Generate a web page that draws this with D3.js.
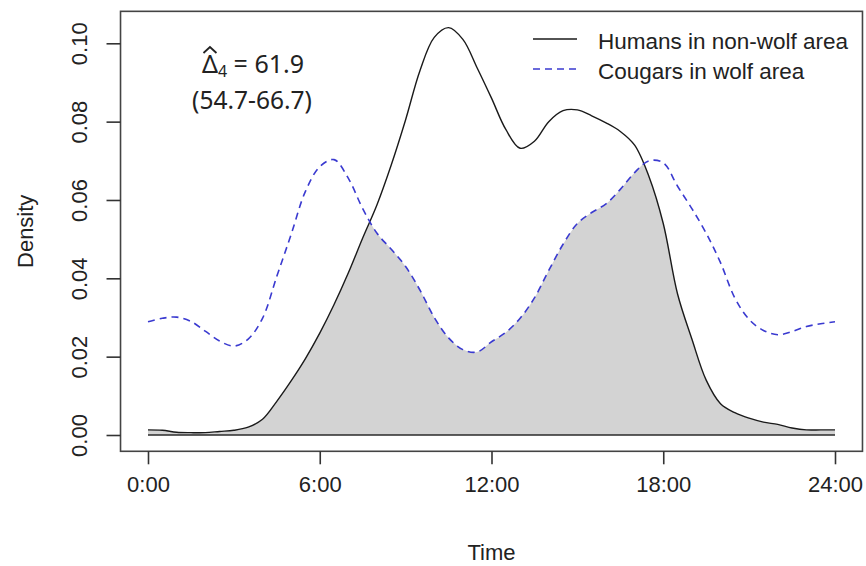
<!DOCTYPE html>
<html>
<head>
<meta charset="utf-8">
<script src="https://cdn.jsdelivr.net/npm/d3@7"></script>
<style>
  html, body { margin: 0; padding: 0; background: #fff; }
  svg { display: block; }
  text { font-family: "Liberation Sans", Arial, sans-serif; fill: #222; }
</style>
</head>
<body>
<svg id="chart" width="866" height="566"></svg>
<script>
// ---- data ----
const hours = [0,0.5,1,1.5,2,2.5,3,3.5,4,4.5,5,5.5,6,6.5,7,7.5,8,8.5,9,9.5,10,10.5,11,11.5,12,
               12.5,13,13.5,14,14.5,15,15.5,16,16.5,17,17.5,18,18.5,19,19.5,20,20.5,21,21.5,22,22.5,23,23.5,24];
const humans = [0.0013,0.0012,0.0007,0.0006,0.0006,0.0009,0.0012,0.0020,0.0040,0.0086,0.0138,0.0195,0.0260,
                0.0333,0.0414,0.0503,0.0588,0.0690,0.0805,0.0930,0.1015,0.1040,0.1010,0.0937,0.0860,
                0.0780,0.0732,0.0750,0.0800,0.0828,0.0830,0.0815,0.0797,0.0775,0.0740,0.0660,0.0540,
                0.0360,0.0245,0.0140,0.0080,0.0057,0.0043,0.0033,0.0027,0.0018,0.0013,0.0013,0.0013];
const cougars = [0.0289,0.0298,0.0301,0.0290,0.0265,0.0240,0.0227,0.0245,0.0298,0.0405,0.0512,0.0622,0.0685,
                 0.0703,0.0655,0.0578,0.0515,0.0474,0.0430,0.0370,0.0300,0.0248,0.0218,0.0212,0.0238,
                 0.0262,0.0298,0.0350,0.0420,0.0487,0.0540,0.0568,0.0590,0.0627,0.0670,0.0700,0.0695,
                 0.0635,0.0578,0.0515,0.0440,0.0350,0.0295,0.0267,0.0256,0.0264,0.0277,0.0284,0.0289];
const xTicks = [0, 6, 12, 18, 24];
const xTickLabels = ["0:00", "6:00", "12:00", "18:00", "24:00"];
const yTicks = [0, 0.02, 0.04, 0.06, 0.08, 0.10];
const seriesNames = ["Humans in non-wolf area", "Cougars in wolf area"];
const annotation = { estimate: "61.9", interval: "(54.7-66.7)" };

// ---- layout ----
const svg = d3.select("#chart");
const x = d3.scaleLinear().domain([0, 24]).range([148, 835]);
const yMax = d3.max(humans.concat(cougars));
const y = d3.scaleLinear().domain([0, 0.1]).range([435, 43.3]);
const pad = 0.04;
const boxX0 = x(-24 * pad), boxX1 = x(24 + 24 * pad);
const boxY0 = y(yMax + yMax * pad), boxY1 = y(-yMax * pad);

const data = hours.map((h, i) => ({ h, a: humans[i], b: cougars[i] }));
const curve = d3.curveCatmullRom.alpha(0.5);

// clip: area under cougars curve
const defs = svg.append("defs");
defs.append("clipPath").attr("id", "underCougars")
  .append("path")
  .attr("d", d3.area().x(d => x(d.h)).y0(y(0)).y1(d => y(d.b)).curve(curve)(data));

// overlap fill = area under humans clipped to area under cougars
svg.append("path")
  .attr("d", d3.area().x(d => x(d.h)).y0(y(0)).y1(d => y(d.a)).curve(curve)(data))
  .attr("fill", "#d3d3d3")
  .attr("clip-path", "url(#underCougars)");

// zero baseline
svg.append("line")
  .attr("x1", x(0)).attr("x2", x(24)).attr("y1", y(0)).attr("y2", y(0))
  .attr("stroke", "#2a2a2a").attr("stroke-width", 1.6);

// humans line
svg.append("path")
  .attr("d", d3.line().x(d => x(d.h)).y(d => y(d.a)).curve(curve)(data))
  .attr("fill", "none").attr("stroke", "#1a1a1a").attr("stroke-width", 1.4);

// cougars line
svg.append("path")
  .attr("d", d3.line().x(d => x(d.h)).y(d => y(d.b)).curve(curve)(data))
  .attr("fill", "none").attr("stroke", "#3a3ad0").attr("stroke-width", 1.6)
  .attr("stroke-dasharray", "7,5");

// box
svg.append("rect")
  .attr("x", boxX0).attr("y", boxY0)
  .attr("width", boxX1 - boxX0).attr("height", boxY1 - boxY0)
  .attr("fill", "none").attr("stroke", "#444").attr("stroke-width", 1.6);

// x axis
const xAxis = d3.axisBottom(x).tickValues(xTicks)
  .tickFormat((d, i) => xTickLabels[i]).tickSize(13).tickPadding(12);
const gx = svg.append("g").attr("transform", `translate(0,${boxY1})`).call(xAxis);
gx.select(".domain").remove();
gx.selectAll(".tick line").attr("stroke", "#333").attr("stroke-width", 1.6);
gx.selectAll(".tick text").attr("font-size", 22).attr("fill", "#222")
  .style("font-family", "'Liberation Sans', Arial, sans-serif");

// y axis
const yAxis = d3.axisLeft(y).tickValues(yTicks).tickFormat(d3.format(".2f")).tickSize(14).tickPadding(0);
const gy = svg.append("g").attr("transform", `translate(${boxX0},0)`).call(yAxis);
gy.select(".domain").remove();
gy.selectAll(".tick line").attr("stroke", "#333").attr("stroke-width", 1.6);
gy.selectAll(".tick text")
  .attr("font-size", 22).attr("fill", "#222")
  .attr("text-anchor", "middle").attr("dy", null)
  .attr("x", null)
  .attr("transform", `translate(${87 - boxX0},0) rotate(-90)`)
  .style("font-family", "'Liberation Sans', Arial, sans-serif");

// axis titles
svg.append("text").attr("x", (boxX0 + boxX1) / 2).attr("y", 560)
  .attr("text-anchor", "middle").attr("font-size", 22).text("Time");
svg.append("text").attr("transform", `translate(33,${(boxY0 + boxY1) / 2}) rotate(-90)`)
  .attr("text-anchor", "middle").attr("font-size", 22).text("Density");

// legend
const legend = svg.append("g");
const legRows = [
  { name: seriesNames[0], color: "#1a1a1a", dash: null, w: 1.4 },
  { name: seriesNames[1], color: "#3a3ad0", dash: "7,5", w: 1.6 }
];
legRows.forEach((r, i) => {
  const ly = 39 + i * 30;
  legend.append("line").attr("x1", 533).attr("x2", 577).attr("y1", ly).attr("y2", ly)
    .attr("stroke", r.color).attr("stroke-width", r.w).attr("stroke-dasharray", r.dash);
  legend.append("text").attr("x", 598).attr("y", ly + 10)
    .attr("font-size", 22.5).text(r.name);
});

// annotation
const ann = svg.append("g");
const t1 = ann.append("text").attr("x", 253).attr("y", 73).attr("text-anchor", "middle")
  .attr("font-size", 25).style("font-family", "'Noto Sans', sans-serif");
t1.append("tspan").text("\u0394");
t1.append("tspan").attr("font-size", 16).attr("dy", 4).text("4");
t1.append("tspan").attr("dy", -4).text(" = " + annotation.estimate);
// hat over the Delta, sized from the glyph's own extent
const ext = t1.node().getExtentOfChar(0);
const hatTop = ext.y + 1, hatBase = ext.y + 7;
ann.append("path")
  .attr("d", `M${ext.x + 1.5},${hatBase} L${ext.x + ext.width / 2},${hatTop} L${ext.x + ext.width - 1.5},${hatBase}`)
  .attr("fill", "none").attr("stroke", "#222").attr("stroke-width", 1.8)
  .attr("stroke-linejoin", "miter");
ann.append("text").attr("x", 252).attr("y", 109).attr("text-anchor", "middle")
  .attr("font-size", 24.5).style("font-family", "'Noto Sans', sans-serif")
  .text(annotation.interval);
</script>
</body>
</html>
